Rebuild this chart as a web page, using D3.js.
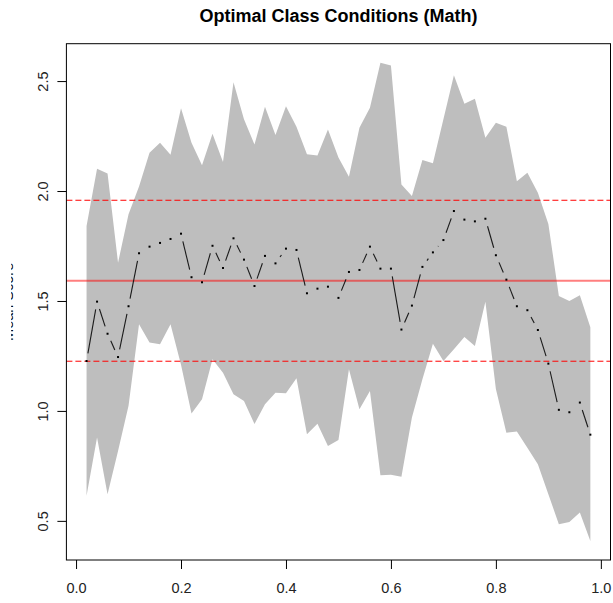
<!DOCTYPE html>
<html>
<head>
<meta charset="utf-8">
<script src="https://cdn.jsdelivr.net/npm/d3@7"></script>
<style>
  body { margin: 0; background: #fff; }
  svg { display: block; font-family: "Liberation Sans", Arial, sans-serif; }
</style>
</head>
<body>
<svg id="svg" width="613" height="603"></svg>
<script>
const WIDTH = 613
const HEIGHT = 603
const BOX = { left: 66.4, right: 610.5, top: 43.7, bottom: 560 }

// class condition share, 0.02 .. 0.98
const xs = d3.range(1, 50).map(i => +(i * 0.02).toFixed(2))

const meanScore = [
  1.227, 1.497, 1.351, 1.245, 1.476, 1.717, 1.747, 1.764, 1.782, 1.806,
  1.608, 1.585, 1.751, 1.650, 1.785, 1.688, 1.568, 1.705, 1.671, 1.738,
  1.732, 1.535, 1.556, 1.565, 1.514, 1.632, 1.641, 1.747, 1.647, 1.647,
  1.370, 1.479, 1.655, 1.721, 1.777, 1.909, 1.870, 1.862, 1.874, 1.708,
  1.597, 1.476, 1.458, 1.368, 1.215, 1.005, 0.994, 1.038, 0.892
]

const upperBand = [
  1.841, 2.101, 2.080, 1.674, 1.894, 2.020, 2.174, 2.220, 2.165, 2.376,
  2.220, 2.117, 2.261, 2.132, 2.495, 2.326, 2.212, 2.383, 2.255, 2.386,
  2.292, 2.167, 2.162, 2.280, 2.152, 2.065, 2.288, 2.379, 2.583, 2.571,
  2.030, 1.977, 2.141, 2.126, 2.326, 2.526, 2.397, 2.420, 2.242, 2.311,
  2.292, 2.045, 2.083, 1.992, 1.850, 1.523, 1.500, 1.526, 1.380
]

const lowerBand = [
  0.614, 0.879, 0.621, 0.818, 1.023, 1.394, 1.311, 1.303, 1.394, 1.210,
  0.988, 1.053, 1.235, 1.174, 1.076, 1.045, 0.940, 1.030, 1.083, 1.080,
  1.148, 0.894, 0.942, 0.841, 0.868, 1.189, 1.008, 1.091, 0.708, 0.710,
  0.701, 0.970, 1.144, 1.306, 1.227, 1.280, 1.336, 1.295, 1.497, 1.100,
  0.901, 0.906, 0.833, 0.758, 0.621, 0.485, 0.495, 0.538, 0.409
]

const overallMean = 1.592
const limits = [1.226, 1.958]

const xTicks = [0, 0.2, 0.4, 0.6, 0.8, 1.0]
const yTicks = [0.5, 1.0, 1.5, 2.0, 2.5]

const TITLE = 'Optimal Class Conditions (Math)'
const Y_LABEL = 'Mean Score'

// R style 4% axis padding
const pad = ([a, b]) => [a - (b - a) * 0.04, b + (b - a) * 0.04]
const X = d3.scaleLinear().domain(pad(d3.extent(xs))).range([BOX.left, BOX.right])
const Y = d3.scaleLinear()
  .domain(pad([d3.min(lowerBand), d3.max(upperBand)]))
  .range([BOX.bottom, BOX.top])

const SVG = d3.select('#svg')

// band
const BAND = d3.area()
  .x((d, i) => X(xs[i]))
  .y0((d, i) => Y(lowerBand[i]))
  .y1(d => Y(d))

SVG.append('path')
  .datum(upperBand)
  .attr('d', BAND)
  .attr('fill', '#bebebe')

// reference lines
SVG.append('line')
  .attr('x1', BOX.left).attr('x2', BOX.right)
  .attr('y1', Y(overallMean)).attr('y2', Y(overallMean))
  .attr('stroke', 'rgba(255,0,0,0.5)')
  .attr('stroke-width', 2)

SVG.selectAll('line.limit')
  .data(limits)
  .enter()
  .append('line')
  .attr('class', 'limit')
  .attr('x1', BOX.left).attr('x2', BOX.right)
  .attr('y1', d => Y(d)).attr('y2', d => Y(d))
  .attr('stroke', '#ff0000')
  .attr('stroke-width', 1)
  .attr('stroke-dasharray', '6,3')

// type="b": segments with gaps round the points
const GAP = 7.8
const PTS = meanScore.map((v, i) => [X(xs[i]), Y(v)])
const SEGS = d3.pairs(PTS)
  .map(([a, b]) => {
    const dx = b[0] - a[0], dy = b[1] - a[1]
    const len = Math.hypot(dx, dy)
    if (len <= 2 * GAP) return null
    const ux = dx / len, uy = dy / len
    return [a[0] + ux * GAP, a[1] + uy * GAP, b[0] - ux * GAP, b[1] - uy * GAP]
  })
  .filter(s => s)

SVG.selectAll('line.seg')
  .data(SEGS)
  .enter()
  .append('line')
  .attr('class', 'seg')
  .attr('x1', d => d[0]).attr('y1', d => d[1])
  .attr('x2', d => d[2]).attr('y2', d => d[3])
  .attr('stroke', '#1a1a1a')
  .attr('stroke-width', 1.1)

SVG.selectAll('rect.pt')
  .data(PTS)
  .enter()
  .append('rect')
  .attr('class', 'pt')
  .attr('x', d => d[0] - 1)
  .attr('y', d => d[1] - 1)
  .attr('width', 2)
  .attr('height', 2)
  .attr('fill', '#000')

// box
SVG.append('rect')
  .attr('x', BOX.left).attr('y', BOX.top)
  .attr('width', BOX.right - BOX.left)
  .attr('height', BOX.bottom - BOX.top)
  .attr('fill', 'none')
  .attr('stroke', '#000')
  .attr('stroke-width', 1)

// axes
const X_AXIS = SVG.append('g')
  .attr('transform', `translate(0, ${BOX.bottom})`)
  .call(d3.axisBottom(X).tickValues(xTicks).tickFormat(d3.format('.1f')).tickSize(9).tickPadding(14))
X_AXIS.select('.domain').remove()
X_AXIS.selectAll('text')
  .attr('font-size', 14.5)
  .attr('font-family', '"Liberation Sans", Arial, sans-serif')
  .attr('fill', '#222')

const Y_AXIS = SVG.append('g')
  .attr('transform', `translate(${BOX.left}, 0)`)
  .call(d3.axisLeft(Y).tickValues(yTicks).tickFormat(d3.format('.1f')).tickSize(9))
Y_AXIS.select('.domain').remove()
Y_AXIS.selectAll('text')
  .attr('x', null).attr('dy', null)
  .attr('text-anchor', 'middle')
  .attr('transform', 'translate(-18.3, 0) rotate(-90)')
  .attr('font-size', 14.5)
  .attr('font-family', '"Liberation Sans", Arial, sans-serif')
  .attr('fill', '#222')

// title
SVG.append('text')
  .attr('x', (BOX.left + BOX.right) / 2)
  .attr('y', 22)
  .attr('text-anchor', 'middle')
  .attr('font-weight', 'bold')
  .attr('font-size', 18)
  .text(TITLE)

// y label, cut off at the left edge of the picture
SVG.append('clipPath')
  .attr('id', 'ylabclip')
  .append('rect')
  .attr('x', 11.2).attr('y', 0).attr('width', 2.5).attr('height', HEIGHT)

SVG.append('g')
  .attr('clip-path', 'url(#ylabclip)')
  .append('text')
  .attr('transform', `translate(12.8, ${(BOX.top + BOX.bottom) / 2}) rotate(-90)`)
  .attr('text-anchor', 'middle')
  .attr('font-size', 14.5)
  .text(Y_LABEL)
</script>
</body>
</html>
